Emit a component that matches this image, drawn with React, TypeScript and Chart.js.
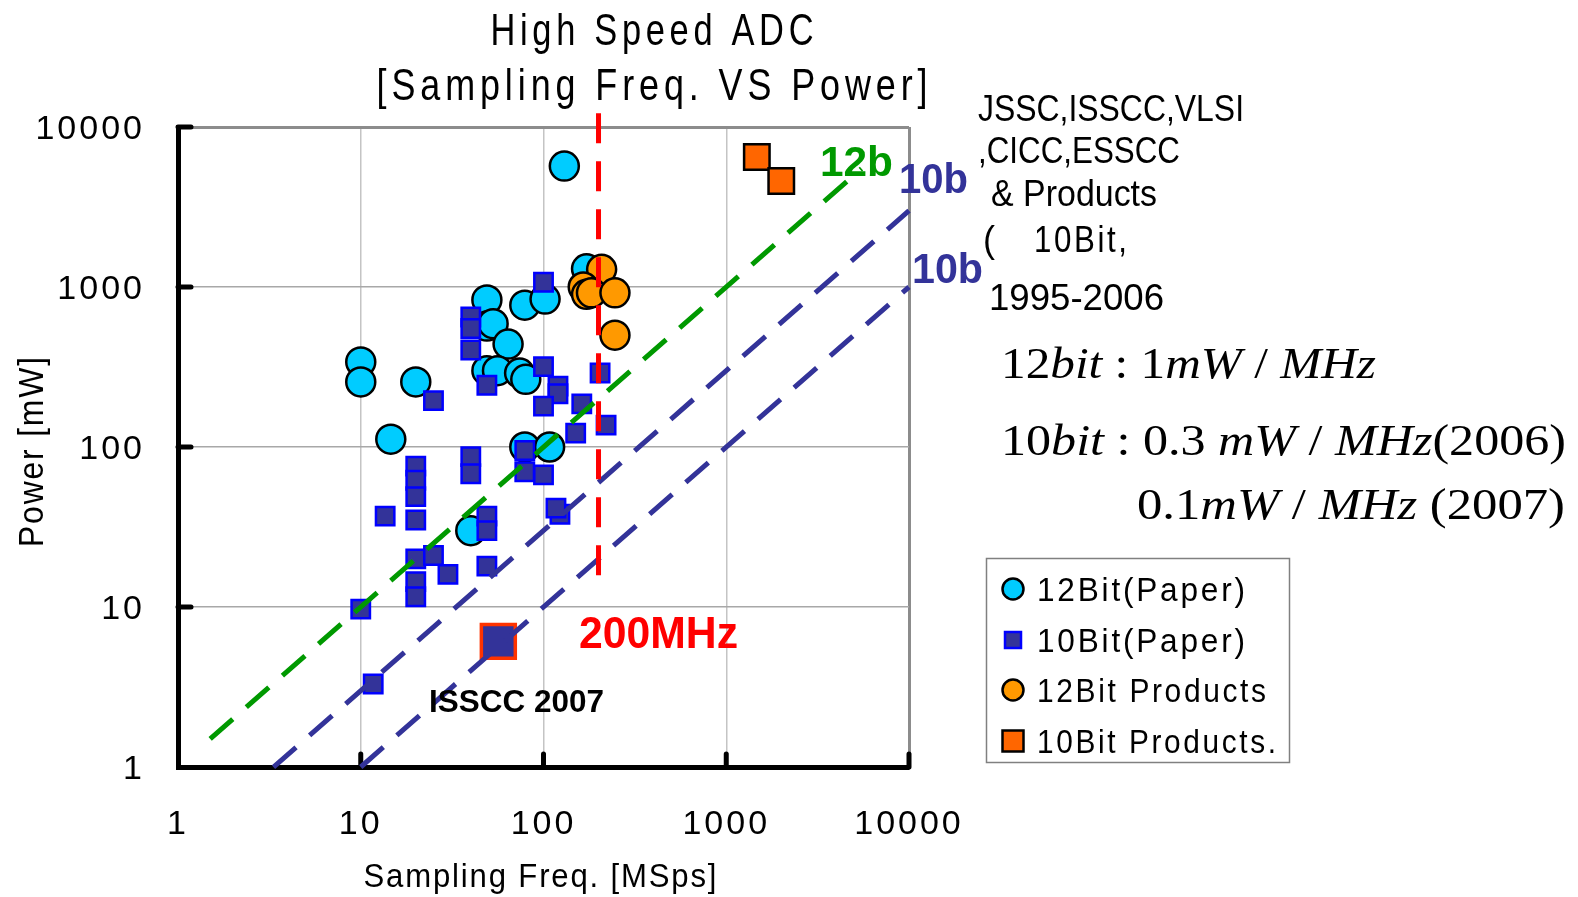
import React, { useEffect, useRef } from "react";
import { Chart, registerables } from "chart.js";

Chart.register(...registerables);

// ---- Data: sampling frequency [MSps] vs. power [mW] ----
const paper12Bit: [number, number][] = [
  [10, 340], [10, 255], [20, 255], [14.6, 112], [49, 830], [49, 570], [53, 590],
  [64, 440], [49, 300], [56, 300], [74, 290], [80, 265], [79, 770], [102, 840],
  [79, 100], [108, 100], [130, 5700], [172, 1300], [40, 30],
];

const paper10Bit: [number, number][] = [
  [100, 1070], [40, 650], [40, 550], [40, 404], [49, 243], [25, 195], [100, 318],
  [120, 240], [120, 215], [100, 180], [162, 186], [204, 290], [220, 137], [150, 122],
  [20, 76], [20, 62], [20, 49], [20, 35], [13.6, 37], [40, 87], [40, 68], [79, 95],
  [79, 70], [100, 67], [49, 37], [49, 30], [49, 18], [20, 20], [25, 21], [30, 16],
  [20, 14.4], [20, 11.6], [10, 9.7], [11.7, 3.3], [123, 38], [117, 41.5],
];

const products12Bit: [number, number][] = [
  [208, 1290], [165, 1000], [172, 900], [183, 920], [246, 920], [246, 500],
];

const products10Bit: [number, number][] = [
  [1470, 6500], [2000, 4600],
];

const isscc2007: [number, number][] = [[56.6, 6.1]];

// Figure-of-merit lines: power = k * frequency (mW/MHz)
const fomSlopes = [1, 0.3, 0.1];
const fomStartFreq = [1.5, 3.33, 10];
const fomEndFreq = [5500, 10000, 10000];

// 200 MHz marker line
const markerFreq = 200;
const markerPowerSpan = [12200, 15.4];

const decadeTicks = [1, 10, 100, 1000, 10000];

const legendLabels = ["12Bit(Paper)", "10Bit(Paper)", "12Bit Products", "10Bit Products."];

const SANS = "'Liberation Sans', Arial, sans-serif";
const SERIF = "'Liberation Serif', 'Times New Roman', serif";

const toPoints = (arr: [number, number][]) => arr.map(([x, y]) => ({ x, y }));

type TextOpts = {
  size: number;
  weight?: string;
  italic?: boolean;
  family?: string;
  color?: string;
  width?: number;
  align?: "left" | "center";
  spacing?: number;
  rotate?: number;
};

function fitText(ctx: CanvasRenderingContext2D, text: string, x: number, y: number, o: TextOpts) {
  ctx.save();
  const spacing = o.spacing || 0;
  ctx.font = `${o.italic ? "italic " : ""}${o.weight || "normal"} ${o.size}px ${o.family || SANS}`;
  (ctx as any).letterSpacing = `${spacing}px`;
  const natural = ctx.measureText(text).width - spacing;
  const sx = o.width ? o.width / natural : 1;
  ctx.translate(x, y);
  if (o.rotate) ctx.rotate(o.rotate);
  ctx.scale(sx, 1);
  ctx.textAlign = "left";
  ctx.textBaseline = "alphabetic";
  ctx.fillStyle = o.color || "#000";
  ctx.fillText(text, o.align === "center" ? -natural / 2 : 0, 0);
  ctx.restore();
}

function drawRuns(
  ctx: CanvasRenderingContext2D,
  runs: [string, boolean][],
  x: number,
  y: number,
  size: number,
  width: number
) {
  ctx.save();
  (ctx as any).letterSpacing = "0px";
  const fontFor = (it: boolean) => `${it ? "italic " : ""}${size}px ${SERIF}`;
  let total = 0;
  const widths = runs.map(([t, it]) => {
    ctx.font = fontFor(it);
    const w = ctx.measureText(t).width;
    total += w;
    return w;
  });
  ctx.translate(x, y);
  ctx.scale(width / total, 1);
  ctx.fillStyle = "#000";
  ctx.textBaseline = "alphabetic";
  ctx.textAlign = "left";
  let cx = 0;
  runs.forEach(([t, it], i) => {
    ctx.font = fontFor(it);
    ctx.fillText(t, cx, 0);
    cx += widths[i];
  });
  ctx.restore();
}

const decorPlugin = {
  id: "adcDecor",
  beforeDraw(chart: any) {
    const ctx = chart.ctx as CanvasRenderingContext2D;
    ctx.save();
    ctx.fillStyle = "#fff";
    ctx.fillRect(0, 0, chart.width, chart.height);
    ctx.restore();
    (ctx as any).letterSpacing = "3px";
  },
  beforeDatasetsDraw(chart: any) {
    const ctx = chart.ctx as CanvasRenderingContext2D;
    const { left, bottom } = chart.chartArea;
    const xs = chart.scales.x;
    const ys = chart.scales.y;
    ctx.save();
    ctx.strokeStyle = "#000";
    ctx.lineWidth = 5;
    ctx.lineCap = "round";
    decadeTicks.slice(1).forEach((v) => {
      const py = ys.getPixelForValue(v);
      ctx.beginPath();
      ctx.moveTo(left, py);
      ctx.lineTo(left + 13, py);
      ctx.stroke();
      const px = xs.getPixelForValue(v);
      ctx.beginPath();
      ctx.moveTo(px, bottom);
      ctx.lineTo(px, bottom - 13);
      ctx.stroke();
    });
    ctx.restore();
  },
  afterDraw(chart: any) {
    const ctx = chart.ctx as CanvasRenderingContext2D;
    (ctx as any).letterSpacing = "0px";

    // Title
    fitText(ctx, "High Speed ADC", 652, 45, { size: 44, width: 323, align: "center", spacing: 6 });
    fitText(ctx, "[Sampling Freq. VS Power]", 652, 100, { size: 44, width: 551, align: "center", spacing: 6 });

    // Axis titles
    fitText(ctx, "Sampling Freq. [MSps]", 540, 887, { size: 34, width: 353, align: "center", spacing: 2 });
    fitText(ctx, "Power [mW]", 43, 452, { size: 35, width: 190, align: "center", spacing: 2, rotate: -Math.PI / 2 });

    // Line labels
    fitText(ctx, "12b", 820, 176, { size: 42, weight: "bold", width: 73, color: "#009900" });
    fitText(ctx, "10b", 899, 193, { size: 42, weight: "bold", width: 69, color: "#333399" });
    fitText(ctx, "10b", 912, 283, { size: 42, weight: "bold", width: 71, color: "#333399" });
    fitText(ctx, "200MHz", 579, 648, { size: 44, weight: "bold", width: 159, color: "#ff0000" });
    fitText(ctx, "ISSCC 2007", 429, 712, { size: 32, weight: "bold", width: 175, color: "#000" });

    // Source notes
    fitText(ctx, "JSSC,ISSCC,VLSI", 978, 121, { size: 36, width: 266 });
    fitText(ctx, ",CICC,ESSCC", 978, 163, { size: 36, width: 202 });
    fitText(ctx, "& Products", 991, 206, { size: 36, width: 166 });
    fitText(ctx, "(", 983, 252, { size: 36 });
    fitText(ctx, "10Bit,", 1034, 252, { size: 36, width: 93, spacing: 3 });
    fitText(ctx, "1995-2006", 989, 310, { size: 36, width: 175 });

    // Power-efficiency notes
    drawRuns(ctx, [["12", false], ["bit", true], [" : ", false], ["1", false], ["mW", true], [" / ", false], ["MHz", true]], 1001, 378, 44, 375);
    drawRuns(ctx, [["10", false], ["bit", true], [" : ", false], ["0.3", false], [" ", false], ["mW", true], [" / ", false], ["MHz", true], ["(2006)", false]], 1001, 455, 44, 565);
    drawRuns(ctx, [["0.1", false], ["mW", true], [" / ", false], ["MHz", true], [" (2007)", false]], 1137, 519, 44, 428);

    // Legend
    ctx.save();
    ctx.fillStyle = "#fff";
    ctx.fillRect(986, 558, 304, 205);
    ctx.strokeStyle = "#808080";
    ctx.lineWidth = 1.5;
    ctx.strokeRect(986.5, 558.5, 303, 204);
    ctx.restore();

    const rows = [589, 640, 690, 741];
    const widths = [208, 208, 229, 239];
    const mx = 1013;
    const legendDatasets = [chart.data.datasets[8], chart.data.datasets[7], chart.data.datasets[6], chart.data.datasets[5]];
    legendDatasets.forEach((ds: any, i: number) => {
      const cy = rows[i];
      ctx.save();
      ctx.fillStyle = ds.backgroundColor;
      ctx.strokeStyle = ds.borderColor;
      ctx.lineWidth = 2.5;
      if (ds.pointStyle === "circle") {
        ctx.beginPath();
        ctx.arc(mx, cy, 10.5, 0, Math.PI * 2);
        ctx.fill();
        ctx.stroke();
      } else {
        const half = i === 1 ? 8 : 10.5;
        ctx.fillRect(mx - half, cy - half, half * 2, half * 2);
        ctx.strokeRect(mx - half, cy - half, half * 2, half * 2);
      }
      ctx.restore();
      fitText(ctx, legendLabels[i], 1037, cy + 12, { size: 34, width: widths[i], spacing: 3 });
    });
  },
};

export default function App() {
  const ref = useRef<HTMLCanvasElement>(null);

  useEffect(() => {
    const canvas = ref.current;
    if (!canvas) return;

    const fomColors = ["#009900", "#333399", "#333399"];
    const fomDatasets = fomSlopes.map((k, i) => ({
      label: `${k} mW/MHz`,
      data: [
        { x: fomStartFreq[i], y: k * fomStartFreq[i] },
        { x: fomEndFreq[i], y: k * fomEndFreq[i] },
      ],
      showLine: true,
      borderColor: fomColors[i],
      borderWidth: 5,
      borderDash: [30, 18],
      pointRadius: 0,
      clip: false,
    }));

    const datasets: any[] = [
      {
        label: "200MHz",
        data: markerPowerSpan.map((p) => ({ x: markerFreq, y: p })),
        showLine: true,
        borderColor: "#ff0000",
        borderWidth: 5,
        borderDash: [30, 18],
        pointRadius: 0,
        clip: false,
      },
      ...fomDatasets,
      {
        label: "ISSCC 2007",
        data: toPoints(isscc2007),
        pointStyle: "rect",
        pointRadius: 24,
        backgroundColor: "#333399",
        borderColor: "#ff3300",
        borderWidth: 3.5,
      },
      {
        label: legendLabels[3],
        data: toPoints(products10Bit),
        pointStyle: "rect",
        pointRadius: 18,
        backgroundColor: "#ff6600",
        borderColor: "#000000",
        borderWidth: 2.5,
      },
      {
        label: legendLabels[2],
        data: toPoints(products12Bit),
        pointStyle: "circle",
        pointRadius: 14.5,
        backgroundColor: "#ff9900",
        borderColor: "#000000",
        borderWidth: 2.5,
      },
      {
        label: legendLabels[1],
        data: toPoints(paper10Bit),
        pointStyle: "rect",
        pointRadius: 13,
        backgroundColor: "#333399",
        borderColor: "#0000ff",
        borderWidth: 2.5,
      },
      {
        label: legendLabels[0],
        data: toPoints(paper12Bit),
        pointStyle: "circle",
        pointRadius: 14.5,
        backgroundColor: "#00ccff",
        borderColor: "#000000",
        borderWidth: 2.5,
      },
    ];

    const edgeWidth = (ctx: any) => (ctx.tick && ctx.tick.value === 10000 ? 3 : 1.5);

    const chart = new Chart(canvas, {
      type: "scatter",
      data: { datasets },
      options: {
        animation: false,
        responsive: false,
        devicePixelRatio: 1,
        events: [],
        layout: { padding: { top: 127, right: 669, left: 0, bottom: 0 } },
        plugins: {
          legend: { display: false },
          tooltip: { enabled: false },
          title: { display: false },
        },
        scales: {
          x: {
            type: "logarithmic",
            position: "bottom",
            min: 1,
            max: 10000,
            afterBuildTicks: (s: any) => {
              s.ticks = decadeTicks.map((v) => ({ value: v }));
            },
            afterFit: (s: any) => {
              s.height = 130;
            },
            ticks: {
              callback: (v: any) => String(v),
              font: { family: SANS, size: 34 },
              color: "#000",
              padding: 37,
              maxRotation: 0,
              autoSkip: false,
            },
            grid: {
              drawTicks: false,
              color: (ctx: any) => (ctx.tick && ctx.tick.value === 10000 ? "#8c8c8c" : "#c4c4c4"),
              lineWidth: edgeWidth,
            },
            border: { display: true, color: "#000", width: 5 },
          },
          y: {
            type: "logarithmic",
            position: "left",
            min: 1,
            max: 10000,
            afterBuildTicks: (s: any) => {
              s.ticks = decadeTicks.map((v) => ({ value: v }));
            },
            afterFit: (s: any) => {
              s.width = 178;
            },
            ticks: {
              callback: (v: any) => String(v),
              font: { family: SANS, size: 34 },
              color: "#000",
              padding: 33,
              labelOffset: 3,
              autoSkip: false,
            },
            grid: {
              drawTicks: false,
              color: (ctx: any) => (ctx.tick && ctx.tick.value === 10000 ? "#8c8c8c" : "#a8a8a8"),
              lineWidth: edgeWidth,
            },
            border: { display: true, color: "#000", width: 5 },
          },
        },
      } as any,
      plugins: [decorPlugin],
    });

    return () => chart.destroy();
  }, []);

  return (
    <div style={{ position: "absolute", left: 0, top: 0, width: 1578, height: 897, background: "#fff" }}>
      <canvas ref={ref} width={1578} height={897} style={{ display: "block", width: 1578, height: 897 }} />
    </div>
  );
}
